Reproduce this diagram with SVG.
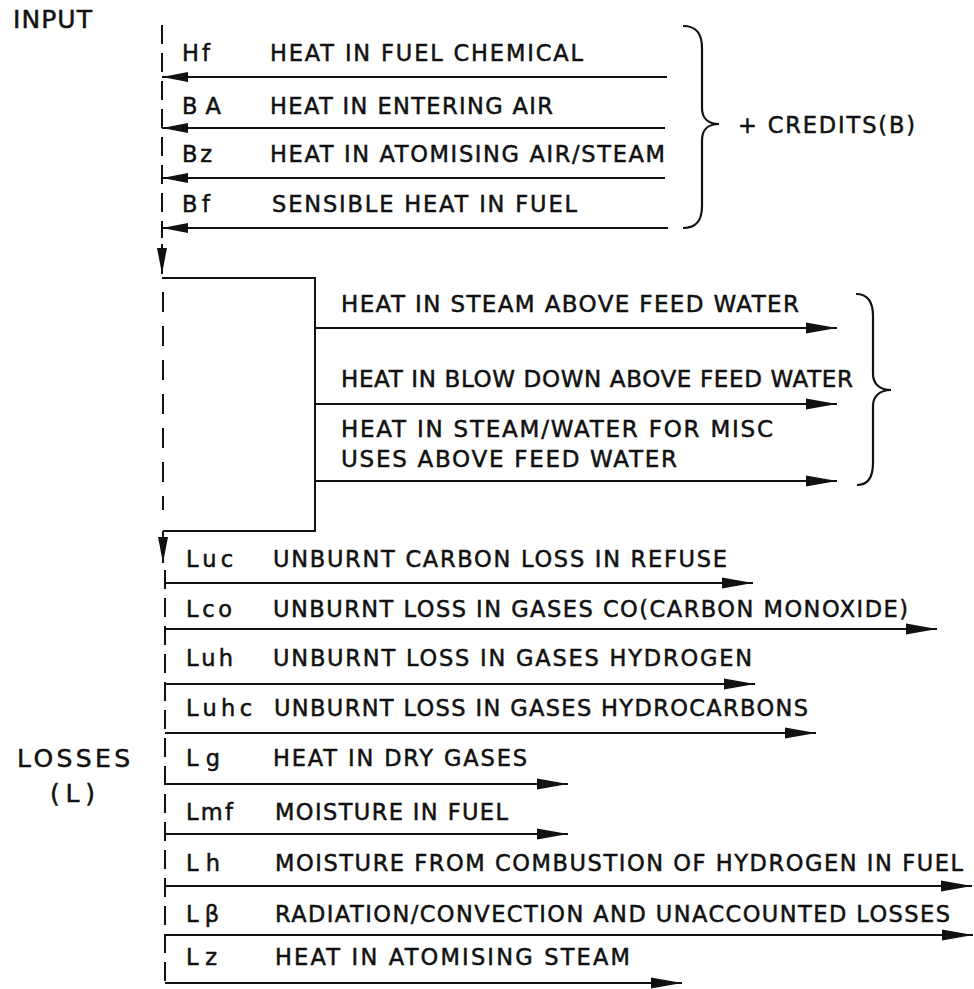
<svg xmlns="http://www.w3.org/2000/svg" width="974" height="989" viewBox="0 0 974 989">
<style>
text{font-family:"DejaVu Sans","Liberation Sans",sans-serif;font-size:22.5px;fill:#111;stroke:#111;stroke-width:0.5;}
.big{font-size:25px;}
.mid{font-size:23px;}
.ln{stroke:#111;stroke-width:2;fill:none;}
.dash{stroke:#111;stroke-width:2;fill:none;stroke-dasharray:19 9;}
.dash2{stroke:#111;stroke-width:2;fill:none;stroke-dasharray:20 14;}
.br{stroke:#111;stroke-width:2.2;fill:none;}
</style>
<defs>
<marker id="ah" markerUnits="userSpaceOnUse" markerWidth="32" markerHeight="14" refX="31" refY="7" orient="auto" viewBox="0 0 32 14"><path d="M0,1.5 L31,7 L0,12.5 Z" fill="#111"/></marker>
<marker id="ahs" markerUnits="userSpaceOnUse" markerWidth="28" markerHeight="14" refX="26" refY="7" orient="auto" viewBox="0 0 28 14"><path d="M0,2 L26,7 L0,12 Z" fill="#111"/></marker>
</defs>
<rect width="974" height="989" fill="#fff"/>

<g id="titles">
<text class="big" x="13" y="28" textLength="79" lengthAdjust="spacing">INPUT</text>
<text class="big" x="17" y="767" textLength="113" lengthAdjust="spacing">LOSSES</text>
<text class="big" x="50" y="802" textLength="45" lengthAdjust="spacing">(L)</text>
</g>

<g id="credit-Hf"><text x="182" y="61" textLength="28" lengthAdjust="spacing">Hf</text><text x="270" y="61" textLength="313" lengthAdjust="spacing">HEAT IN FUEL CHEMICAL</text></g>
<g id="credit-BA"><text x="182" y="114" textLength="39" lengthAdjust="spacing">BA</text><text x="270" y="114" textLength="283" lengthAdjust="spacing">HEAT IN ENTERING AIR</text></g>
<g id="credit-Bz"><text x="182" y="162" textLength="30" lengthAdjust="spacing">Bz</text><text x="270" y="162" textLength="395" lengthAdjust="spacing">HEAT IN ATOMISING AIR/STEAM</text></g>
<g id="credit-Bf"><text x="182" y="212" textLength="28" lengthAdjust="spacing">Bf</text><text x="272" y="212" textLength="305" lengthAdjust="spacing">SENSIBLE HEAT IN FUEL</text></g>
<g id="credits"><path class="br" d="M683,26 C697,26 702,34 702,48 L702,108 C702,118 708,124 719,124 C708,124 702,130 702,140 L702,206 C702,220 697,228 683,228"/><text x="738" y="133" textLength="177" lengthAdjust="spacing">+ CREDITS(B)</text></g>

<g id="output-steam"><text class="mid" x="341" y="312" textLength="458" lengthAdjust="spacing">HEAT IN STEAM ABOVE FEED WATER</text></g>
<g id="output-blowdown"><text class="mid" x="341" y="387" textLength="512" lengthAdjust="spacing">HEAT IN BLOW DOWN ABOVE FEED WATER</text></g>
<g id="output-misc"><text class="mid" x="341" y="437" textLength="432" lengthAdjust="spacing">HEAT IN STEAM/WATER FOR MISC</text><text class="mid" x="341" y="467" textLength="336" lengthAdjust="spacing">USES ABOVE FEED WATER</text></g>
<g id="output-brace"><path class="br" d="M856,294 C868,294 873,302 873,316 L873,374 C873,384 880,390 891,390 C880,390 873,396 873,406 L873,463 C873,477 868,485 857,485"/></g>

<g id="loss-Luc"><text x="186" y="567" textLength="47" lengthAdjust="spacing">Luc</text><text x="273" y="567" textLength="454" lengthAdjust="spacing">UNBURNT CARBON LOSS IN REFUSE</text></g>
<g id="loss-Lco"><text x="186" y="617" textLength="46" lengthAdjust="spacing">Lco</text><text x="273" y="617" textLength="635" lengthAdjust="spacing">UNBURNT LOSS IN GASES CO(CARBON MONOXIDE)</text></g>
<g id="loss-Luh"><text x="186" y="666" textLength="47" lengthAdjust="spacing">Luh</text><text x="273" y="666" textLength="479" lengthAdjust="spacing">UNBURNT LOSS IN GASES  HYDROGEN</text></g>
<g id="loss-Luhc"><text x="186" y="716" textLength="66" lengthAdjust="spacing">Luhc</text><text x="274" y="716" textLength="534" lengthAdjust="spacing">UNBURNT LOSS IN GASES HYDROCARBONS</text></g>
<g id="loss-Lg"><text x="186" y="766" textLength="34" lengthAdjust="spacing">Lg</text><text x="273" y="766" textLength="254" lengthAdjust="spacing">HEAT IN DRY GASES</text></g>
<g id="loss-Lmf"><text x="186" y="820" textLength="47" lengthAdjust="spacing">Lmf</text><text x="275" y="820" textLength="233" lengthAdjust="spacing">MOISTURE IN FUEL</text></g>
<g id="loss-Lh"><text x="186" y="871" textLength="34" lengthAdjust="spacing">Lh</text><text x="275" y="871" textLength="688" lengthAdjust="spacing">MOISTURE FROM COMBUSTION OF HYDROGEN IN FUEL</text></g>
<g id="loss-Lbeta"><text x="186" y="922" textLength="33" lengthAdjust="spacing">Lβ</text><text x="275" y="922" textLength="675" lengthAdjust="spacing">RADIATION/CONVECTION AND UNACCOUNTED LOSSES</text></g>
<g id="loss-Lz"><text x="186" y="965" textLength="31" lengthAdjust="spacing">Lz</text><text x="275" y="965" textLength="355" lengthAdjust="spacing">HEAT IN ATOMISING STEAM</text></g>

<g id="connectors">
<path class="dash" d="M162,25 L162,238"/>
<path class="ln" d="M667,77 L162,77" marker-end="url(#ahs)"/>
<path class="ln" d="M665,128 L162,128" marker-end="url(#ahs)"/>
<path class="ln" d="M665,178 L162,178" marker-end="url(#ahs)"/>
<path class="ln" d="M668,228 L162,228" marker-end="url(#ahs)"/>
<path class="ln" d="M162,244 L162,274" marker-end="url(#ahs)"/>
<path class="ln" d="M162,278 L315,278 L315,531 L163,531"/>
<path class="dash2" d="M163,292 L163,510"/>
<path class="ln" d="M315,328 L837,328" marker-end="url(#ah)"/>
<path class="ln" d="M315,404 L837,404" marker-end="url(#ah)"/>
<path class="ln" d="M315,481 L837,481" marker-end="url(#ah)"/>
<path class="ln" d="M163,531 L163,563" marker-end="url(#ahs)"/>
<path class="dash" d="M165,570 L165,983"/>
<path class="ln" d="M165,583 L753,583" marker-end="url(#ah)"/>
<path class="ln" d="M165,629 L937,629" marker-end="url(#ah)"/>
<path class="ln" d="M165,684 L755,684" marker-end="url(#ah)"/>
<path class="ln" d="M165,733 L816,733" marker-end="url(#ah)"/>
<path class="ln" d="M165,784 L568,784" marker-end="url(#ah)"/>
<path class="ln" d="M165,834 L568,834" marker-end="url(#ah)"/>
<path class="ln" d="M165,886 L972,886" marker-end="url(#ah)"/>
<path class="ln" d="M165,935 L973,935" marker-end="url(#ah)"/>
<path class="ln" d="M165,983 L682,983" marker-end="url(#ah)"/>
</g>
</svg>
